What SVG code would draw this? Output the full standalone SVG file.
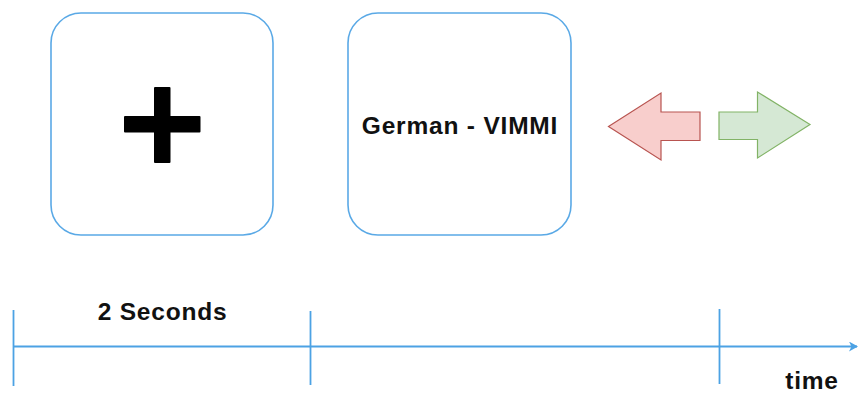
<svg xmlns="http://www.w3.org/2000/svg" width="860" height="394" viewBox="0 0 860 394">
<defs>
<style>
.box{fill:#ffffff;stroke:#5aa9e6;stroke-width:1.6}
.tl{stroke:#4ca2e4;stroke-width:1.8;fill:none}
.lbl{font-family:"Liberation Sans",Arial,sans-serif;font-weight:bold;font-size:24.5px;fill:#111111;letter-spacing:0.8px}
</style>
<marker id="ah" markerWidth="10" markerHeight="10" refX="8" refY="5" orient="auto" markerUnits="userSpaceOnUse">
<path d="M0,0 L9,5 L0,10 L2.5,5 Z" fill="#4ca2e4"/>
</marker>
</defs>
<rect width="860" height="394" fill="#ffffff"/>
<g id="fixation">
<rect class="box" x="51" y="13" width="222" height="222" rx="30" ry="30"/>
<rect x="154" y="87" width="16.5" height="76" rx="1" fill="#000000"/>
<rect x="124" y="116" width="76.5" height="16.5" rx="1" fill="#000000"/>
</g>
<g id="stimulus">
<rect class="box" x="348" y="13" width="223" height="222" rx="30" ry="30"/>
<text class="lbl" x="460" y="134" text-anchor="middle">German - VIMMI</text>
</g>
<g id="left-arrow">
<path d="M608.5,126.5 L661,93 L661,112 L700,112 L700,140.5 L661,140.5 L661,160 Z" fill="#f8cecc" stroke="#b85450" stroke-width="1.2" stroke-linejoin="miter"/>
</g>
<g id="right-arrow">
<path d="M810,124.5 L757.5,92 L757.5,112 L719,112 L719,139.5 L757.5,139.5 L757.5,158 Z" fill="#d5e8d4" stroke="#82b366" stroke-width="1.2" stroke-linejoin="miter"/>
</g>
<g id="connectors">
<line class="tl" x1="13" y1="346.5" x2="857" y2="346.5" marker-end="url(#ah)"/>
<line class="tl" x1="13.5" y1="310" x2="13.5" y2="386"/>
<line class="tl" x1="310.5" y1="311" x2="310.5" y2="385"/>
<line class="tl" x1="719.5" y1="309" x2="719.5" y2="384"/>
</g>
<g id="labels">
<text class="lbl" x="162.5" y="320" text-anchor="middle">2 Seconds</text>
<text class="lbl" x="812" y="388.5" text-anchor="middle">time</text>
</g>
</svg>
